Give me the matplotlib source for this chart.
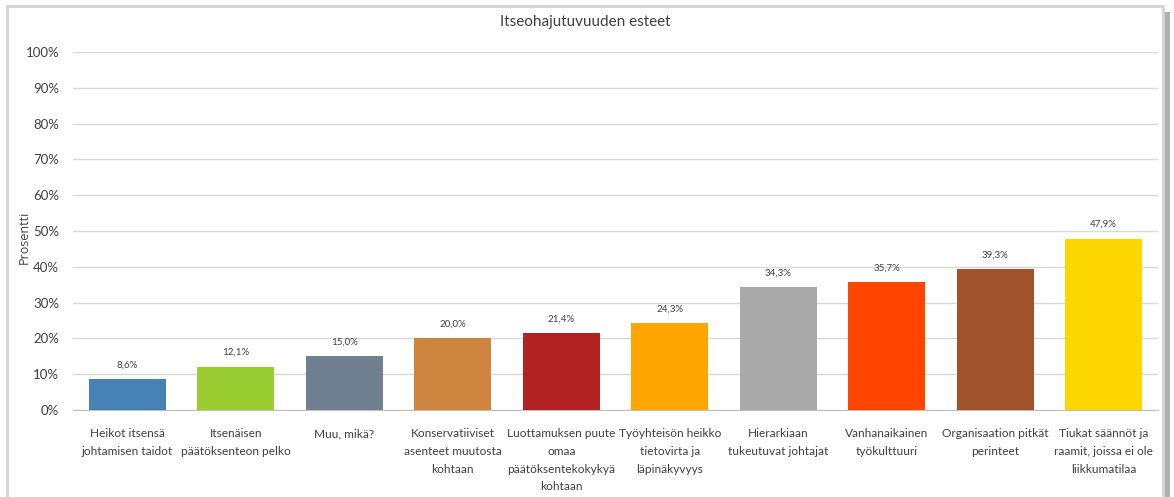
import matplotlib.pyplot as plt
from matplotlib.patches import Rectangle
from matplotlib.ticker import PercentFormatter

plt.rcParams['font.family'] = ['Lato', 'DejaVu Sans']

# data
categories = [
    "Heikot itsensä\njohtamisen taidot",
    "Itsenäisen\npäätöksenteon pelko",
    "Muu, mikä?",
    "Konservatiiviset\nasenteet muutosta\nkohtaan",
    "Luottamuksen puute\nomaa\npäätöksentekokykyä\nkohtaan",
    "Työyhteisön heikko\ntietovirta ja\nläpinäkyvyys",
    "Hierarkiaan\ntukeutuvat johtajat",
    "Vanhanaikainen\ntyökulttuuri",
    "Organisaation pitkät\nperinteet",
    "Tiukat säännöt ja\nraamit, joissa ei ole\nliikkumatilaa",
]
values = [8.6, 12.1, 15.0, 20.0, 21.4, 24.3, 34.3, 35.7, 39.3, 47.9]
colors = ["steelblue", "yellowgreen", "slategray", "peru", "firebrick",
          "orange", "darkgray", "orangered", "sienna", "gold"]
yticks = list(range(0, 101, 10))

W, H = 1174, 497
fig = plt.figure(figsize=(W / 100, H / 100), dpi=100)

# outer frame + shadow
fig.patches.append(Rectangle((1163 / W, 0), 7 / W, 1 - 12 / H, transform=fig.transFigure,
                             facecolor="#b0b0b0", edgecolor="none", zorder=0))
fig.patches.append(Rectangle((7 / W, -0.05), 1156 / W, 1.05 - 6 / H, transform=fig.transFigure,
                             facecolor="white", edgecolor="#d4d4d4", linewidth=2, zorder=1))

ax = fig.add_axes([73 / W, 1 - 410 / H, (1158 - 73) / W, (410 - 52) / H])
ax.set_zorder(2)
ax.patch.set_alpha(0)

x = list(range(len(categories)))
bars = ax.bar(x, values, width=0.71, color=colors, zorder=3)
for b, v in zip(bars, values):
    ax.annotate(f"{v:.1f}%".replace(".", ","), (b.get_x() + b.get_width() / 2, v),
                xytext=(0, 7), textcoords="offset points", ha="center", va="bottom",
                fontsize=7, color="#404040")

ax.set_xlim(-0.5, len(categories) - 0.5)
ax.set_ylim(0, 100)
ax.set_yticks(yticks)
ax.yaxis.set_major_formatter(PercentFormatter(decimals=0))
ax.set_xticks(x)
ax.set_xticklabels(categories, fontsize=8.6, color="#404040", linespacing=1.75, va="top")
ax.tick_params(axis="y", length=0, labelsize=9.5, labelcolor="#404040", pad=10)
ax.tick_params(axis="x", length=0, pad=13)
ax.grid(axis="y", color="#d9d9d9", linewidth=1, zorder=0)
for s in ["top", "right", "left"]:
    ax.spines[s].set_visible(False)
ax.spines["bottom"].set_color("#bfbfbf")

fig.text(24 / W, 1 - 237 / H, "Prosentti", rotation=90, ha="center", va="center",
         fontsize=9, color="#404040", family=["Open Sans", "DejaVu Sans"])
fig.text(585 / W, 1 - 22 / H, "Itseohajutuvuuden esteet", ha="center", va="center",
         fontsize=11, color="#404040")

fig.savefig("out.png", dpi=100)
